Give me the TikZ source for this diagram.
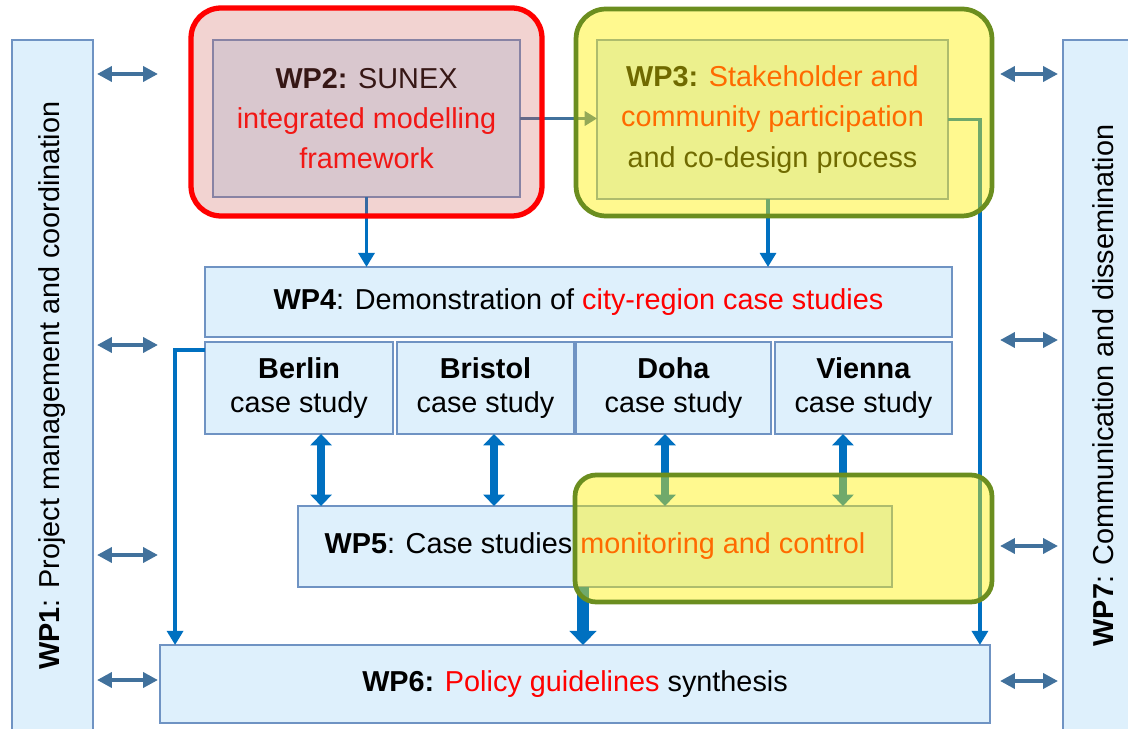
\documentclass[tikz,border=0pt]{standalone}
\usepackage{fontspec}
\setmainfont{Liberation Sans}
\usepackage{xcolor}
\usepackage{tikz}
\usetikzlibrary{positioning,arrows.meta}

\definecolor{boxfill}{HTML}{DEF0FC}
\definecolor{boxline}{HTML}{6F93C3}
\definecolor{arrblue}{HTML}{0070C0}
\definecolor{linkblue}{HTML}{41719C}
\definecolor{hlpink}{RGB}{206,89,81}
\definecolor{hlgreen}{HTML}{6B8E1F}

\begin{document}
\begin{tikzpicture}[x=0.02cm, y=-0.02cm, font=\fontsize{16.4}{22.8}\selectfont,
	box/.style={draw=boxline, line width=0.8pt, fill=boxfill, inner sep=0pt, outer sep=0pt, align=center},
	city/.style={box, minimum height=1.84cm, font=\fontsize{16.4}{19.4}\selectfont},
	hlred/.style={draw=red, line width=3pt, fill=hlpink, fill opacity=0.265, rounded corners=17pt, inner sep=0pt, outer sep=0pt},
	hlyellow/.style={draw=hlgreen, line width=2.7pt, fill=yellow, fill opacity=0.44, rounded corners=17pt, inner sep=0pt, outer sep=0pt},
	conn/.style={draw=arrblue, line width=2.2pt, -{Triangle[length=8pt,width=9pt]}},
	link/.style={draw=linkblue, line width=1.8pt, -{Triangle[length=7pt,width=8pt]}},
	fat/.style={draw=arrblue, line width=5pt, {Triangle[length=6.5pt,width=12pt]}-{Triangle[length=6.5pt,width=12pt]}},
	fatter/.style={draw=arrblue, line width=6.5pt, -{Triangle[length=8pt,width=15pt]}},
	biarrow/.style={draw=linkblue, line width=2.2pt, {Triangle[length=8.5pt,width=8.5pt]}-{Triangle[length=8.5pt,width=8.5pt]}}]
	\useasboundingbox (0,0) rectangle (1128,729);

	\node[box, rotate=90, minimum width=13.82cm, minimum height=1.62cm] (wp1) at (52.5,385.5) {\textbf{WP1}: Project management and coordination};
	\node[box, rotate=90, minimum width=13.82cm, minimum height=1.6cm] (wp7) at (1103,385.5) {\textbf{WP7}: Communication and dissemination};

	\node[box, minimum width=6.14cm, minimum height=3.14cm] (wp2) at (366.5,118.5) {\textbf{WP2:} SUNEX\\\textcolor{red}{integrated modelling}\\\textcolor{red}{framework}};
	\node[box, minimum width=7.02cm, minimum height=3.18cm] (wp3) at (772.5,119.5) {\textbf{WP3:} \textcolor{red}{Stakeholder and}\\\textcolor{red}{community participation}\\and co-design process};

	\node[box, minimum width=14.94cm, minimum height=1.4cm] (wp4) at (578.5,302) {\textbf{WP4}: Demonstration of \textcolor{red}{city-region case studies}};
	\node[city, minimum width=3.76cm, below right=0.1cm and 0cm of wp4.south west] (berlin) {\textbf{Berlin}\\case study};
	\node[city, minimum width=3.54cm, right=0.08cm of berlin] (bristol) {\textbf{Bristol}\\case study};
	\node[city, minimum width=3.9cm, right=0.04cm of bristol] (doha) {\textbf{Doha}\\case study};
	\node[city, minimum width=3.54cm, right=0.08cm of doha] (vienna) {\textbf{Vienna}\\case study};

	\node[box, minimum width=11.88cm, minimum height=1.62cm] (wp5) at (595,546.5) {\textbf{WP5}: Case studies \textcolor{red}{monitoring and control}};
	\node[box, minimum width=16.6cm, minimum height=1.56cm] (wp6) at (575,684) {\textbf{WP6:} \textcolor{red}{Policy guidelines} synthesis};

	\foreach \y in {74,345,555,680}
		\draw[biarrow] ([xshift=0.08cm]wp1.south |- 0,\y) -- ++(61,0);
	\foreach \y in {74,340,546,681}
		\draw[biarrow] ([xshift=-0.1cm]wp7.north |- 0,\y) -- ++(-58,0);

	\draw[link] (wp2.east) -- (wp2.east -| wp3.west);
	\draw[conn] (wp2.south) -- (wp2.south |- wp4.north);
	\draw[conn] ([xshift=-0.09cm]wp3.south) -- ([xshift=-0.09cm]wp3.south |- wp4.north);
	\draw[conn] (wp3.east) -| ([xshift=-0.2cm]wp6.north east);
	\draw[conn] ([yshift=-0.16cm]berlin.north west) -| ([xshift=0.3cm]wp6.north west);

	\foreach \c/\s in {berlin/0.44, bristol/0.17, doha/-0.17, vienna/-0.41}
		\draw[fat] ([xshift=\s cm]\c.south) -- ([xshift=\s cm]\c.south |- wp5.north);
	\draw[fatter] ([xshift=-0.24cm]wp5.south) -- ([xshift=-0.24cm]wp5.south |- wp6.north);

	\node[hlred, minimum width=7.02cm, minimum height=4.16cm] (wp2hl) at (366.5,112) {};
	\node[hlyellow, minimum width=8.32cm, minimum height=4.14cm] (wp3hl) at (784,112.5) {};
	\node[hlyellow, rounded corners=12pt, minimum width=8.34cm, minimum height=2.54cm] (wp5hl) at (783.5,538.5) {};
\end{tikzpicture}
\end{document}
